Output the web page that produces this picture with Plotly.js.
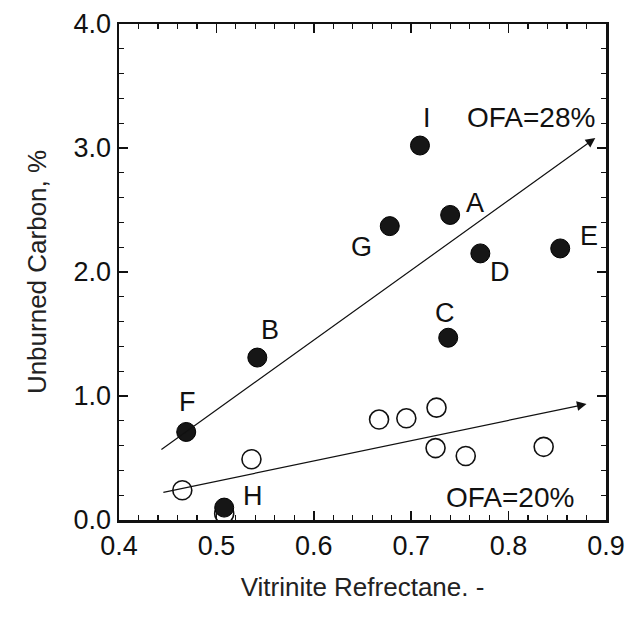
<!DOCTYPE html>
<html><head><meta charset="utf-8">
<script src="https://cdn.plot.ly/plotly-3.0.1.min.js"></script>
<style>body{margin:0;background:#fff}#chart{width:639px;height:618px}</style>
</head><body><div id="chart"></div>
<script>
// OFA = 28% (filled)
const ofa28X = [0.709, 0.740, 0.678, 0.771, 0.853, 0.738, 0.542, 0.469, 0.508];
const ofa28Y = [3.02, 2.46, 2.37, 2.15, 2.19, 1.47, 1.31, 0.71, 0.10];
const ofa28Names = ['I', 'A', 'G', 'D', 'E', 'C', 'B', 'F', 'H'];
const labelX = [0.716, 0.766, 0.649, 0.791, 0.883, 0.735, 0.555, 0.470, 0.538];
const labelY = [3.24, 2.56, 2.20, 2.00, 2.29, 1.67, 1.53, 0.95, 0.19];
// OFA = 20% (open)
const ofa20X = [0.465, 0.536, 0.667, 0.695, 0.726, 0.725, 0.756, 0.836, 0.508];
const ofa20Y = [0.24, 0.49, 0.81, 0.82, 0.906, 0.58, 0.516, 0.59, 0.05];
// trend arrows [x0, y0, x1, y1]
const trend28 = [0.442, 0.56, 0.889, 3.08];
const trend20 = [0.444, 0.22, 0.880, 0.935];
const trendLabels = ['OFA=28%', 'OFA=20%'];
const trendLabelX = [0.823, 0.801];
const trendLabelY = [3.25, 0.185];

const font = {family: 'Liberation Sans, Arial, sans-serif', size: 27, color: '#111'};
const labelFont = {family: 'Liberation Sans, Arial, sans-serif', size: 28, color: '#111'};
const titleFont = {family: 'Liberation Sans, Arial, sans-serif', size: 26, color: '#222'};

const traces = [
  {x: ofa20X, y: ofa20Y, mode: 'markers', type: 'scatter',
   marker: {size: 19, color: '#fff', line: {color: '#111', width: 1.6}}},
  {x: ofa28X, y: ofa28Y, mode: 'markers', type: 'scatter',
   marker: {size: 19, color: '#161616', line: {color: '#000', width: 1}}}
];

const annotations = [];
ofa28Names.forEach((n, i) => annotations.push({x: labelX[i], y: labelY[i], xref: 'x', yref: 'y', text: n, showarrow: false, font: font}));
[trend28, trend20].forEach(t => annotations.push({
  x: t[2], y: t[3], ax: t[0], ay: t[1], xref: 'x', yref: 'y', axref: 'x', ayref: 'y',
  text: '', showarrow: true, arrowhead: 2, arrowsize: 1.6, arrowwidth: 1.2, arrowcolor: '#111'
}));
trendLabels.forEach((t, i) => annotations.push({x: trendLabelX[i], y: trendLabelY[i], xref: 'x', yref: 'y', text: t, showarrow: false, font: labelFont}));

const layout = {
  width: 639, height: 618,
  margin: {l: 119, r: 33, t: 24, b: 98},
  paper_bgcolor: '#fff', plot_bgcolor: '#fff',
  showlegend: false,
  font: font,
  xaxis: {
    range: [0.4, 0.9], dtick: 0.1, tickformat: '.1f',
    ticks: 'inside', ticklen: 9, tickwidth: 1.5, tickcolor: '#111',
    minor: {ticks: 'inside', dtick: 0.02, ticklen: 5, tickwidth: 1.2, tickcolor: '#111'},
    showline: true, linecolor: '#111', linewidth: 2.5, mirror: 'ticks',
    showgrid: false, zeroline: false,
    tickfont: font,
    title: {text: 'Vitrinite Refrectane. -', font: titleFont, standoff: 18}
  },
  yaxis: {
    range: [0, 4], dtick: 1, tickformat: '.1f',
    ticks: 'inside', ticklen: 9, tickwidth: 1.5, tickcolor: '#111',
    minor: {ticks: 'inside', dtick: 0.2, ticklen: 5, tickwidth: 1.2, tickcolor: '#111'},
    showline: true, linecolor: '#111', linewidth: 2.5, mirror: 'ticks',
    showgrid: false, zeroline: false,
    tickfont: font,
    title: {text: 'Unburned Carbon, %', font: titleFont, standoff: 20}
  },
  annotations: annotations
};

Plotly.newPlot('chart', traces, layout, {displayModeBar: false, staticPlot: true});
</script>
</body></html>
